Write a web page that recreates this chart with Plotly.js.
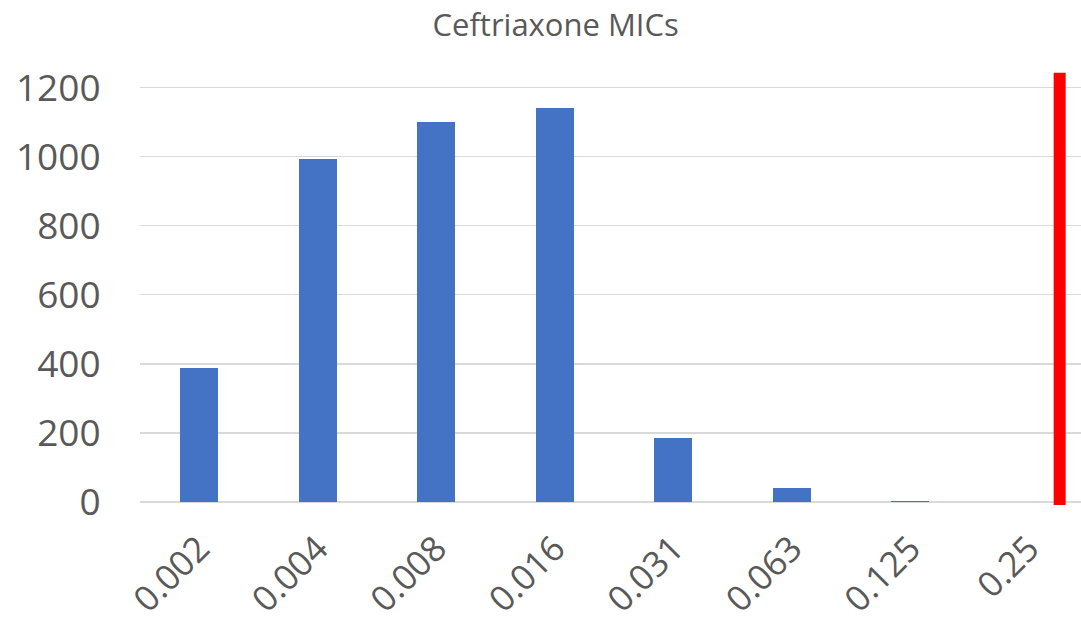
<!DOCTYPE html>
<html>
<head>
<meta charset="utf-8">
<script src="https://cdn.plot.ly/plotly-3.0.1.min.js"></script>
<style>html,body{margin:0;padding:0;background:#fff;}#chart{width:1081px;height:626px;}</style>
</head>
<body>
<div id="chart"></div>
<script>
var categories = ["0.002", "0.004", "0.008", "0.016", "0.031", "0.063", "0.125", "0.25"];
var counts = [388, 994, 1101, 1142, 186, 41, 2, 0];
var breakpointX = [7.26, 7.26];
var breakpointY = [-9, 1243];
var yTicks = [0, 200, 400, 600, 800, 1000, 1200];

var positions = categories.map(function (c, i) { return i; });
var font = "'Open Sans', 'Noto Sans', sans-serif";
var grey = "#595959";

var traces = [
  {
    type: "bar",
    x: positions,
    y: counts,
    width: 0.32,
    marker: { color: "#4472C4", line: { width: 0 } },
    hoverinfo: "y",
    showlegend: false
  },
  {
    type: "scatter",
    mode: "lines",
    x: breakpointX,
    y: breakpointY,
    line: { color: "#FF0000", width: 12 },
    hoverinfo: "skip",
    showlegend: false
  }
];

var layout = {
  width: 1081,
  height: 626,
  margin: { l: 140, r: 0, t: 60, b: 119, pad: 0 },
  paper_bgcolor: "#ffffff",
  plot_bgcolor: "#ffffff",
  font: { family: font, color: grey },
  title: {
    text: "Ceftriaxone MICs",
    font: { family: font, size: 31, color: grey },
    x: 0.514,
    xanchor: "center",
    y: 0.96,
    yanchor: "middle"
  },
  xaxis: {
    range: [-0.5, 7.44],
    tickvals: positions,
    ticktext: categories,
    tickangle: -45,
    ticks: "outside",
    ticklen: 6,
    tickcolor: "rgba(0,0,0,0)",
    tickfont: { family: font, size: 35, color: grey },
    showgrid: false,
    zeroline: false,
    showline: false,
    fixedrange: true
  },
  yaxis: {
    range: [-15, 1280],
    tickvals: yTicks,
    ticks: "outside",
    ticklen: 31,
    tickcolor: "rgba(0,0,0,0)",
    tickfont: { family: font, size: 37, color: grey },
    showgrid: true,
    gridcolor: "#D9D9D9",
    gridwidth: 1.5,
    zeroline: false,
    showline: false,
    fixedrange: true
  },
  bargap: 0
};

Plotly.newPlot("chart", traces, layout, { displayModeBar: false, staticPlot: true });
</script>
</body>
</html>
